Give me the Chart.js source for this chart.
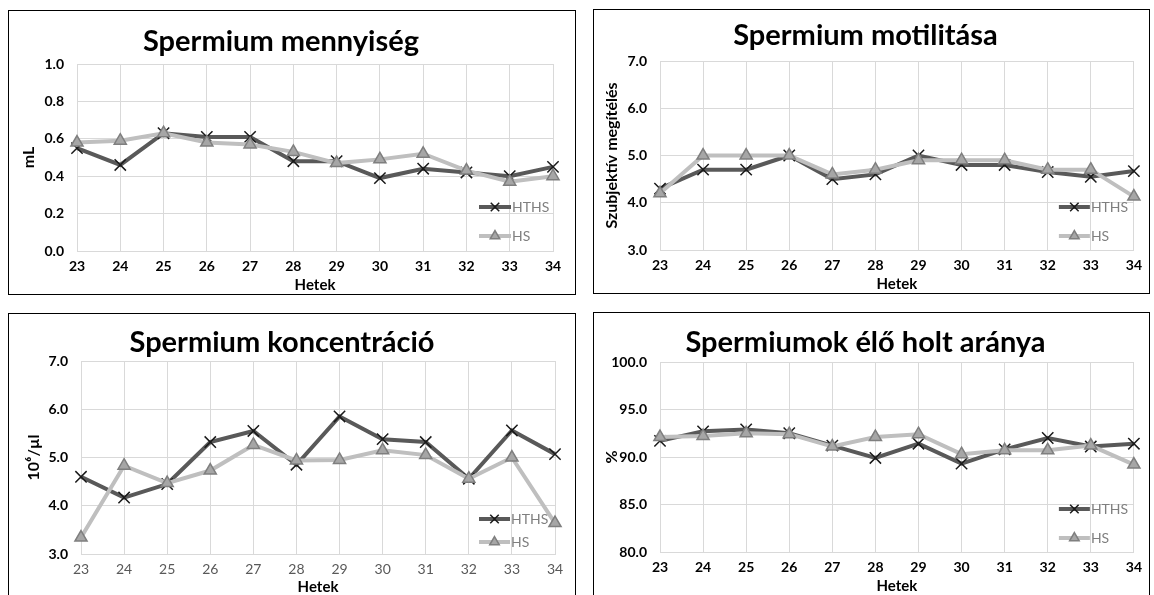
<!DOCTYPE html>
<html>
<head>
<meta charset="utf-8">
<script src="https://cdn.jsdelivr.net/npm/chart.js@4.4.1/dist/chart.umd.min.js"></script>
<style>
    body { margin: 0; background: #fff; width: 1154px; height: 595px; overflow: hidden; position: relative; }
    .panel { position: absolute; border: 1px solid #000; background: #fff; }
    .panel canvas { display: block; }
</style>
</head>
<body>
<div class="panel" style="left:8px;top:10px;"><canvas id="chartVolume" width="566" height="283"></canvas></div>
<div class="panel" style="left:593px;top:9px;"><canvas id="chartMotility" width="555" height="283"></canvas></div>
<div class="panel" style="left:8px;top:313px;"><canvas id="chartConcentration" width="566" height="282"></canvas></div>
<div class="panel" style="left:593px;top:312px;"><canvas id="chartViability" width="555" height="282"></canvas></div>

<script>
// chart data
const weeks = ['23', '24', '25', '26', '27', '28', '29', '30', '31', '32', '33', '34'];
const seriesNames = ['HTHS', 'HS'];

const volumeHTHS = [0.55, 0.46, 0.63, 0.61, 0.61, 0.48, 0.48, 0.39, 0.44, 0.42, 0.40, 0.45];
const volumeHS = [0.58, 0.59, 0.63, 0.58, 0.57, 0.53, 0.47, 0.49, 0.52, 0.43, 0.37, 0.40];

const motilityHTHS = [4.3, 4.7, 4.7, 5.0, 4.5, 4.6, 5.0, 4.8, 4.8, 4.65, 4.55, 4.67];
const motilityHS = [4.2, 5.0, 5.0, 5.0, 4.6, 4.7, 4.9, 4.9, 4.9, 4.7, 4.7, 4.13];

const concentrationHTHS = [4.6, 4.17, 4.45, 5.32, 5.55, 4.85, 5.85, 5.38, 5.32, 4.56, 5.56, 5.07];
const concentrationHS = [3.34, 4.83, 4.47, 4.73, 5.26, 4.94, 4.95, 5.15, 5.05, 4.56, 5.0, 3.64];

const viabilityHTHS = [91.7, 92.7, 92.9, 92.5, 91.2, 89.9, 91.4, 89.3, 90.8, 92.0, 91.1, 91.4];
const viabilityHS = [92.1, 92.2, 92.5, 92.4, 91.1, 92.1, 92.4, 90.3, 90.7, 90.7, 91.2, 89.2];

const FONT = 'Lato, "Open Sans", sans-serif';
const GRID = '#d9d9d9';

// legend drawn inside the plot area, bottom right (like the Excel original)
const insideLegend = {
    id: 'insideLegend',
    afterDatasetsDraw(chart, args, opts) {
        const { ctx, chartArea } = chart;
        const x0 = chartArea.right - opts.fromRight;
        chart.data.datasets.forEach((ds, i) => {
            const y = chartArea.bottom - opts.rows[i];
            ctx.save();
            ctx.strokeStyle = ds.borderColor;
            ctx.lineWidth = ds.borderWidth;
            ctx.beginPath();
            ctx.moveTo(x0, y);
            ctx.lineTo(x0 + opts.sampleWidth, y);
            ctx.stroke();
            ctx.fillStyle = ds.pointBackgroundColor;
            ctx.strokeStyle = ds.pointBorderColor;
            ctx.lineWidth = ds.pointBorderWidth;
            Chart.helpers.drawPoint(ctx, {
                pointStyle: ds.pointStyle,
                radius: opts.markerRadius[i],
                borderWidth: ds.pointBorderWidth,
                rotation: 0
            }, x0 + opts.sampleWidth / 2, y);
            ctx.fillStyle = '#7f7f7f';
            ctx.font = '14px ' + FONT;
            ctx.textBaseline = 'middle';
            ctx.textAlign = 'left';
            ctx.fillText(ds.label, x0 + opts.sampleWidth + 1, y);
            ctx.restore();
        });
    }
};

function makeDatasets(hths, hs) {
    return [
        {
            label: seriesNames[0],
            data: hths,
            borderColor: '#595959',
            borderWidth: 4,
            pointStyle: 'crossRot',
            pointRadius: 8,
            pointBorderColor: '#1a1a1a',
            pointBackgroundColor: '#1a1a1a',
            pointBorderWidth: 1.5,
            tension: 0,
            order: 1
        },
        {
            label: seriesNames[1],
            data: hs,
            borderColor: '#bfbfbf',
            borderWidth: 4,
            pointStyle: 'triangle',
            pointRadius: 7,
            pointBorderColor: '#7f7f7f',
            pointBackgroundColor: '#a6a6a6',
            pointBorderWidth: 1.5,
            tension: 0,
            order: 0
        }
    ];
}

function renderPanel(canvasId, cfg) {
    const ctx = document.getElementById(canvasId).getContext('2d');
    const tickBold = { family: FONT, size: 14, weight: 'bold' };

    new Chart(ctx, {
        type: 'line',
        data: { labels: weeks, datasets: makeDatasets(cfg.hths, cfg.hs) },
        options: {
            responsive: false,
            animation: false,
            layout: { padding: { left: 0, right: cfg.padRight, top: 0, bottom: 0 } },
            plugins: {
                legend: { display: false },
                tooltip: { enabled: false },
                title: {
                    display: true,
                    text: cfg.title,
                    color: '#000',
                    font: { family: FONT, size: 29, weight: 'bold' },
                    padding: { top: cfg.titleTop, bottom: cfg.titleBottom }
                },
                insideLegend: cfg.legend
            },
            scales: {
                x: {
                    offset: false,
                    grid: { color: GRID, drawTicks: false },
                    border: { color: GRID },
                    ticks: {
                        color: cfg.xTickColor || '#000',
                        font: cfg.xTickFont || tickBold,
                        padding: 7,
                        maxRotation: 0,
                        autoSkip: false
                    },
                    title: {
                        display: true,
                        text: 'Hetek',
                        color: '#000',
                        font: { family: FONT, size: 15, weight: 'bold' },
                        padding: { top: 0, bottom: cfg.xTitlePad }
                    },
                    afterFit: (scale) => { scale.height = cfg.xHeight; }
                },
                y: {
                    min: cfg.min,
                    max: cfg.max,
                    grid: { color: GRID, drawTicks: false },
                    border: { color: GRID },
                    ticks: {
                        stepSize: cfg.step,
                        color: '#000',
                        font: tickBold,
                        padding: 13,
                        callback: (value) => value.toFixed(1)
                    },
                    title: {
                        display: true,
                        text: cfg.yTitle,
                        color: '#000',
                        font: { family: FONT, size: 16, weight: 'bold' },
                        padding: { top: cfg.yTitlePad, bottom: 0 }
                    },
                    afterFit: (scale) => { scale.width = cfg.yWidth; }
                }
            }
        },
        plugins: [insideLegend]
    });
}

renderPanel('chartVolume', {
    title: 'Spermium mennyiség', yTitle: 'mL',
    hths: volumeHTHS, hs: volumeHS,
    min: 0, max: 1, step: 0.2,
    yWidth: 68, padRight: 22, xHeight: 43, xTitlePad: 0, yTitlePad: 10.4,
    titleTop: 13.6, titleBottom: 4.6,
    legend: { fromRight: 74, sampleWidth: 32, rows: [44, 15], markerRadius: [6, 5.5] }
});

renderPanel('chartMotility', {
    title: 'Spermium motilitása', yTitle: 'Szubjektív megítélés',
    hths: motilityHTHS, hs: motilityHS,
    min: 3, max: 7, step: 1,
    yWidth: 66, padRight: 12, xHeight: 43, xTitlePad: 0, yTitlePad: 8.4,
    titleTop: 8.6, titleBottom: 7.6,
    legend: { fromRight: 75, sampleWidth: 31, rows: [43, 14], markerRadius: [6, 5.5] }
});

renderPanel('chartConcentration', {
    title: 'Spermium koncentráció', yTitle: '10⁶/µl',
    hths: concentrationHTHS, hs: concentrationHS,
    min: 3, max: 7, step: 1,
    yWidth: 72, padRight: 20, xHeight: 42, xTitlePad: 0, yTitlePad: 15.4,
    titleTop: 11.6, titleBottom: 0.6,
    xTickColor: '#595959', xTickFont: { family: FONT, size: 14, weight: 'normal' },
    legend: { fromRight: 76, sampleWidth: 31, rows: [35, 12], markerRadius: [6, 5.5] }
});

renderPanel('chartViability', {
    title: 'Spermiumok élő holt aránya', yTitle: '%',
    hths: viabilityHTHS, hs: viabilityHS,
    min: 80, max: 100, step: 5,
    yWidth: 66, padRight: 12, xHeight: 43, xTitlePad: 0, yTitlePad: 8.4,
    titleTop: 12.6, titleBottom: 1.6,
    legend: { fromRight: 75, sampleWidth: 31, rows: [43, 14], markerRadius: [6, 5.5] }
});
</script>
</body>
</html>
